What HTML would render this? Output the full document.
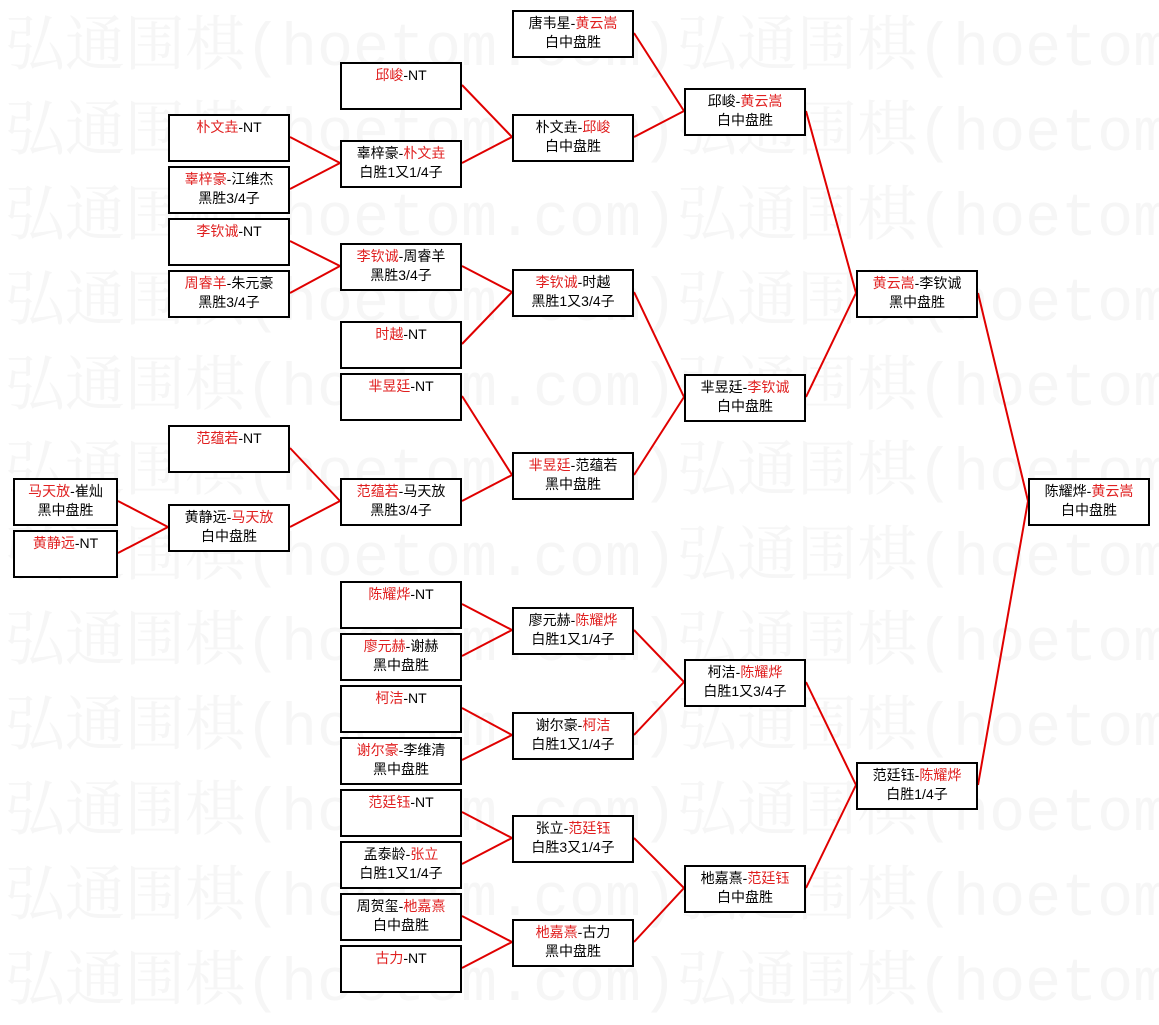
<!DOCTYPE html>
<html><head><meta charset="utf-8"><style>
body{margin:0;width:1159px;height:1001px;background:#fff;position:relative;overflow:hidden;font-family:"Liberation Sans","Noto Sans CJK SC","WenQuanYi Zen Hei",sans-serif;}
.wm{position:absolute;left:5px;font-family:"Liberation Mono","Noto Serif CJK SC",monospace;font-size:60px;color:#f6f6f6;white-space:nowrap;line-height:80px;}
.b{position:absolute;width:118px;height:42px;border:2px solid #000;background:#fff;text-align:center;font-size:14px;line-height:19px;padding-top:2px;box-sizing:content-box;color:#000;}
.s{width:101px}
.r{color:#e02020}
svg{position:absolute;left:0;top:0}
</style></head><body>
<div class="wm" style="top:10px">弘通围棋(hoetom.com)弘通围棋(hoetom.</div>
<div class="wm" style="top:95px">弘通围棋(hoetom.com)弘通围棋(hoetom.</div>
<div class="wm" style="top:180px">弘通围棋(hoetom.com)弘通围棋(hoetom.</div>
<div class="wm" style="top:265px">弘通围棋(hoetom.com)弘通围棋(hoetom.</div>
<div class="wm" style="top:350px">弘通围棋(hoetom.com)弘通围棋(hoetom.</div>
<div class="wm" style="top:435px">弘通围棋(hoetom.com)弘通围棋(hoetom.</div>
<div class="wm" style="top:520px">弘通围棋(hoetom.com)弘通围棋(hoetom.</div>
<div class="wm" style="top:605px">弘通围棋(hoetom.com)弘通围棋(hoetom.</div>
<div class="wm" style="top:690px">弘通围棋(hoetom.com)弘通围棋(hoetom.</div>
<div class="wm" style="top:775px">弘通围棋(hoetom.com)弘通围棋(hoetom.</div>
<div class="wm" style="top:860px">弘通围棋(hoetom.com)弘通围棋(hoetom.</div>
<div class="wm" style="top:945px">弘通围棋(hoetom.com)弘通围棋(hoetom.</div>
<svg width="1159" height="1001"><g stroke="#e00000" stroke-width="2" fill="none">
<path d="M118 501L168 527M118 553L168 527"/>
<path d="M290 137L340 163M290 189L340 163M290 241L340 266M290 293L340 266M290 448L340 501M290 527L340 501"/>
<path d="M462 85L512 137M462 163L512 137M462 266L512 292M462 344L512 292M462 396L512 475M462 501L512 475M462 604L512 630M462 656L512 630M462 708L512 735M462 760L512 735M462 812L512 838M462 864L512 838M462 916L512 942M462 968L512 942"/>
<path d="M634 33L684 111M634 137L684 111M634 292L684 397M634 475L684 397M634 630L684 682M634 735L684 682M634 838L684 888M634 942L684 888"/>
<path d="M806 111L856 293M806 397L856 293M806 682L856 785M806 888L856 785"/>
<path d="M978 293L1028 501M978 785L1028 501"/>
</g></svg>
<div class="b s" style="left:13px;top:478px"><span class="r">马天放</span>-崔灿<br>黑中盘胜</div>
<div class="b s" style="left:13px;top:530px"><span class="r">黄静远</span>-NT</div>
<div class="b" style="left:168px;top:114px"><span class="r">朴文垚</span>-NT</div>
<div class="b" style="left:168px;top:166px"><span class="r">辜梓豪</span>-江维杰<br>黑胜3/4子</div>
<div class="b" style="left:168px;top:218px"><span class="r">李钦诚</span>-NT</div>
<div class="b" style="left:168px;top:270px"><span class="r">周睿羊</span>-朱元豪<br>黑胜3/4子</div>
<div class="b" style="left:168px;top:425px"><span class="r">范蕴若</span>-NT</div>
<div class="b" style="left:168px;top:504px">黄静远-<span class="r">马天放</span><br>白中盘胜</div>
<div class="b" style="left:340px;top:62px"><span class="r">邱峻</span>-NT</div>
<div class="b" style="left:340px;top:140px">辜梓豪-<span class="r">朴文垚</span><br>白胜1又1/4子</div>
<div class="b" style="left:340px;top:243px"><span class="r">李钦诚</span>-周睿羊<br>黑胜3/4子</div>
<div class="b" style="left:340px;top:321px"><span class="r">时越</span>-NT</div>
<div class="b" style="left:340px;top:373px"><span class="r">芈昱廷</span>-NT</div>
<div class="b" style="left:340px;top:478px"><span class="r">范蕴若</span>-马天放<br>黑胜3/4子</div>
<div class="b" style="left:340px;top:581px"><span class="r">陈耀烨</span>-NT</div>
<div class="b" style="left:340px;top:633px"><span class="r">廖元赫</span>-谢赫<br>黑中盘胜</div>
<div class="b" style="left:340px;top:685px"><span class="r">柯洁</span>-NT</div>
<div class="b" style="left:340px;top:737px"><span class="r">谢尔豪</span>-李维清<br>黑中盘胜</div>
<div class="b" style="left:340px;top:789px"><span class="r">范廷钰</span>-NT</div>
<div class="b" style="left:340px;top:841px">孟泰龄-<span class="r">张立</span><br>白胜1又1/4子</div>
<div class="b" style="left:340px;top:893px">周贺玺-<span class="r">杝嘉熹</span><br>白中盘胜</div>
<div class="b" style="left:340px;top:945px"><span class="r">古力</span>-NT</div>
<div class="b" style="left:512px;top:10px">唐韦星-<span class="r">黄云嵩</span><br>白中盘胜</div>
<div class="b" style="left:512px;top:114px">朴文垚-<span class="r">邱峻</span><br>白中盘胜</div>
<div class="b" style="left:512px;top:269px"><span class="r">李钦诚</span>-时越<br>黑胜1又3/4子</div>
<div class="b" style="left:512px;top:452px"><span class="r">芈昱廷</span>-范蕴若<br>黑中盘胜</div>
<div class="b" style="left:512px;top:607px">廖元赫-<span class="r">陈耀烨</span><br>白胜1又1/4子</div>
<div class="b" style="left:512px;top:712px">谢尔豪-<span class="r">柯洁</span><br>白胜1又1/4子</div>
<div class="b" style="left:512px;top:815px">张立-<span class="r">范廷钰</span><br>白胜3又1/4子</div>
<div class="b" style="left:512px;top:919px"><span class="r">杝嘉熹</span>-古力<br>黑中盘胜</div>
<div class="b" style="left:684px;top:88px">邱峻-<span class="r">黄云嵩</span><br>白中盘胜</div>
<div class="b" style="left:684px;top:374px">芈昱廷-<span class="r">李钦诚</span><br>白中盘胜</div>
<div class="b" style="left:684px;top:659px">柯洁-<span class="r">陈耀烨</span><br>白胜1又3/4子</div>
<div class="b" style="left:684px;top:865px">杝嘉熹-<span class="r">范廷钰</span><br>白中盘胜</div>
<div class="b" style="left:856px;top:270px"><span class="r">黄云嵩</span>-李钦诚<br>黑中盘胜</div>
<div class="b" style="left:856px;top:762px">范廷钰-<span class="r">陈耀烨</span><br>白胜1/4子</div>
<div class="b" style="left:1028px;top:478px">陈耀烨-<span class="r">黄云嵩</span><br>白中盘胜</div>
</body></html>
